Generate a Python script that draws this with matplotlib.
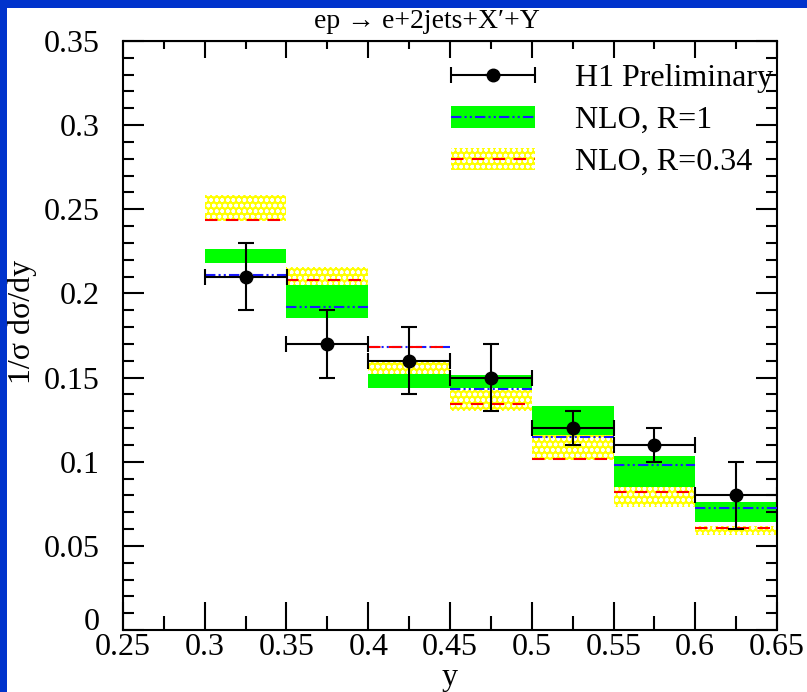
import numpy as np
import matplotlib
matplotlib.use('Agg')
import matplotlib.pyplot as plt
from matplotlib.patches import Rectangle, Patch
from matplotlib.lines import Line2D
from matplotlib.legend_handler import HandlerErrorbar
from matplotlib.ticker import MultipleLocator, FixedFormatter, FixedLocator

plt.rcParams['font.family'] = ['Liberation Serif', 'DejaVu Serif']
plt.rcParams['hatch.linewidth'] = 1.0

# bins in y
bin_lo = [0.30, 0.35, 0.40, 0.45, 0.50, 0.55, 0.60]
bin_w = 0.05

# H1 preliminary data
h1_val = [0.21, 0.17, 0.16, 0.15, 0.12, 0.11, 0.08]
h1_err = [0.02, 0.02, 0.02, 0.02, 0.01, 0.01, 0.02]

# NLO, R=1 (green band, blue dash-dot central)
r1_c = [0.2112, 0.1918, 0.168, 0.1431, 0.1144, 0.0978, 0.0726]
r1_lo = [0.2181, 0.1853, 0.144, 0.1437, 0.1158, 0.0831, 0.0643]
r1_hi = [0.2266, 0.2055, 0.153, 0.1514, 0.1330, 0.1033, 0.0762]

# NLO, R=0.34 (yellow band, red dashed central)
r034_c = [0.2435, 0.2078, 0.168, 0.1344, 0.1016, 0.0820, 0.0604]
r034_lo = [0.2430, 0.2049, 0.152, 0.1302, 0.1010, 0.0732, 0.0564]
r034_hi = [0.2583, 0.2156, 0.159, 0.1425, 0.1158, 0.0851, 0.0618]

xtick_labels = ['0.25', '0.3', '0.35', '0.4', '0.45', '0.5', '0.55', '0.6', '0.65']
ytick_labels = ['0', '0.05', '0.1', '0.15', '0.2', '0.25', '0.3', '0.35']

green = '#00ff00'
yellow = '#ffff00'
blue_ls = (0, (5, 1.5, 1, 1.5, 1, 1.5))
red_ls = (0, (6, 4))

fig = plt.figure(figsize=(8.07, 6.92), dpi=100)
ax = fig.add_axes([123/807, 62/692, 654/807, 589/692])

bin_lo = np.array(bin_lo)
bin_hi = bin_lo + bin_w
centers = bin_lo + bin_w/2

# bands
ax.bar(bin_lo, np.array(r1_hi) - np.array(r1_lo), bottom=r1_lo, width=bin_w,
       align='edge', color=green, linewidth=0, zorder=1)
ax.bar(bin_lo, np.array(r034_hi) - np.array(r034_lo), bottom=r034_lo, width=bin_w,
       align='edge', facecolor=yellow, edgecolor='white', hatch='ooo', linewidth=0, zorder=2)

# central lines
ax.hlines(r1_c, bin_lo, bin_hi, colors='#1a1aff', linestyles=blue_ls, linewidth=1.5, zorder=3)
ax.hlines(r034_c, bin_lo, bin_hi, colors='#ff0000', linestyles=red_ls, linewidth=1.5, zorder=4)

# data
eb = ax.errorbar(centers, h1_val, xerr=bin_w/2, yerr=h1_err, fmt='o', color='black',
                 markersize=9, elinewidth=1.5, capsize=5.5, capthick=1.5, zorder=5)

ax.set_xlim(0.25, 0.65)
ax.set_ylim(0, 0.35)
ax.xaxis.set_major_locator(FixedLocator(np.linspace(0.25, 0.65, 9)))
ax.xaxis.set_major_formatter(FixedFormatter(xtick_labels))
ax.xaxis.set_minor_locator(MultipleLocator(0.025))
ax.yaxis.set_major_locator(FixedLocator(np.linspace(0, 0.35, 8)))
ax.yaxis.set_major_formatter(FixedFormatter(ytick_labels))
ax.yaxis.set_minor_locator(MultipleLocator(0.01))

ax.tick_params(axis='x', which='major', direction='in', length=20, width=1.5,
               labelsize=23, pad=2, top=False)
ax.tick_params(axis='x', which='minor', direction='in', length=10, width=1.5, top=False)
ax.tick_params(axis='y', which='major', direction='in', length=15, width=1.5,
               labelsize=23, pad=17, right=True)
ax.tick_params(axis='y', which='minor', direction='in', length=8, width=1.5, right=True)
for s in ax.spines.values():
    s.set_linewidth(1.5)

# the "0" label sits a bit higher, just above the x labels
fig.canvas.draw()
ax.yaxis.get_major_ticks()[0].label1.set_verticalalignment('baseline')

top = ax.secondary_xaxis('top')
top.xaxis.set_major_locator(FixedLocator(np.linspace(0.25, 0.65, 9)))
top.xaxis.set_minor_locator(MultipleLocator(0.025))
top.tick_params(which='major', direction='in', length=12, width=1.5, labeltop=False)
top.tick_params(which='minor', direction='in', length=6, width=1.5)

fig.text(427/807, 1 - 21/692, 'ep \u2192 e+2jets+X\u2032+Y', ha='center', va='center',
         fontsize=20)
fig.text(450/807, 1 - 678/692, 'y', ha='center', va='center', fontsize=23)
fig.text(22/807, 1 - 322/692, '1/σ dσ/dy', ha='center', va='center', rotation=90, fontsize=23)

# legend
h_r1 = (Patch(facecolor=green, linewidth=0),
        Line2D([], [], color='#1a1aff', linestyle=blue_ls, linewidth=1.5))
h_r034 = (Patch(facecolor=yellow, edgecolor='white', hatch='ooo', linewidth=0),
          Line2D([], [], color='#ff0000', linestyle=red_ls, linewidth=1.5))
leg = ax.legend([eb, h_r1, h_r034], ['H1 Preliminary', 'NLO, R=1', 'NLO, R=0.34'],
                loc='upper right', bbox_to_anchor=(1.013, 0.983), frameon=False, fontsize=23,
                handlelength=2.63, handleheight=0.7, handletextpad=1.25, labelspacing=0.395,
                borderaxespad=0.0,
                handler_map={type(eb): HandlerErrorbar(xerr_size=1.32, yerr_size=0.0)})

# blue slide frame
fig.patches.append(Rectangle((0, 1 - 8/692), 1, 8/692, transform=fig.transFigure,
                             facecolor='#0033cc', edgecolor='none', zorder=10))
fig.patches.append(Rectangle((0, 0), 7/807, 1, transform=fig.transFigure,
                             facecolor='#0033cc', edgecolor='none', zorder=10))

fig.savefig('out.png', dpi=100)
